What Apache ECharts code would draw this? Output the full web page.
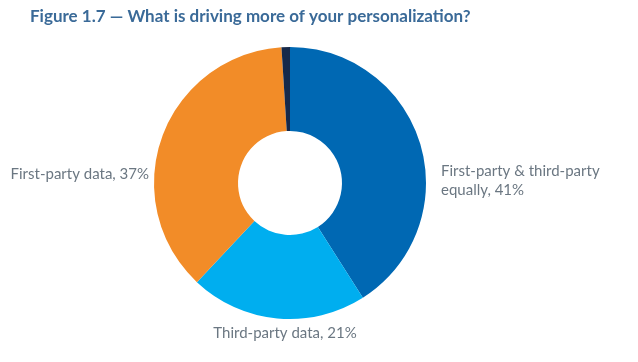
<!DOCTYPE html>
<html><head><meta charset="utf-8">
<script src="https://cdn.jsdelivr.net/npm/echarts@6/dist/echarts.min.js"></script>
<style>html,body{margin:0;padding:0;background:#fff}#c{width:638px;height:362px}</style>
</head><body><div id="c"></div>
<script>
const categories = ["First-party & third-party equally", "Third-party data", "First-party data", "Other"];
const labelTexts = ["First-party & third-party\nequally, 41%", "Third-party data, 21%", "First-party data, 37%", ""];
const values = [41, 21, 37, 1];
const colors = ["#0068b3", "#00aeef", "#f28c28", "#16294a"];

const chart = echarts.init(document.getElementById('c'));
const labelPos = [
  {x: 441, y: 181, align: 'left'},
  {x: 285, y: 333, align: 'center'},
  {x: 149, y: 174, align: 'right'},
  {x: 290, y: 40, align: 'center'}
];
chart.setOption({
  animation: false,
  title: {
    text: 'Figure 1.7 — What is driving more of your personalization?',
    left: 25, top: 3,
    textStyle: {fontFamily: 'Lato', fontWeight: 'bold', fontSize: 17, color: '#3a6a98'}
  },
  series: [{
    type: 'pie',
    center: [290, 183],
    radius: [52, 136],
    startAngle: 90,
    clockwise: true,
    data: categories.map((c, i) => ({name: c, value: values[i], itemStyle: {color: colors[i]},
      label: {formatter: labelTexts[i]}})),
    label: {show: true, position: 'outside', color: '#6b7782', fontFamily: 'Lato', fontSize: 15, lineHeight: 19, overflow: 'none', width: 300},
    labelLine: {show: false},
    labelLayout: function (p) {
      const l = labelPos[p.dataIndex];
      return {x: l.x, y: l.y, align: l.align, verticalAlign: 'middle', hideOverlap: false};
    }
  }]
});
</script></body></html>
